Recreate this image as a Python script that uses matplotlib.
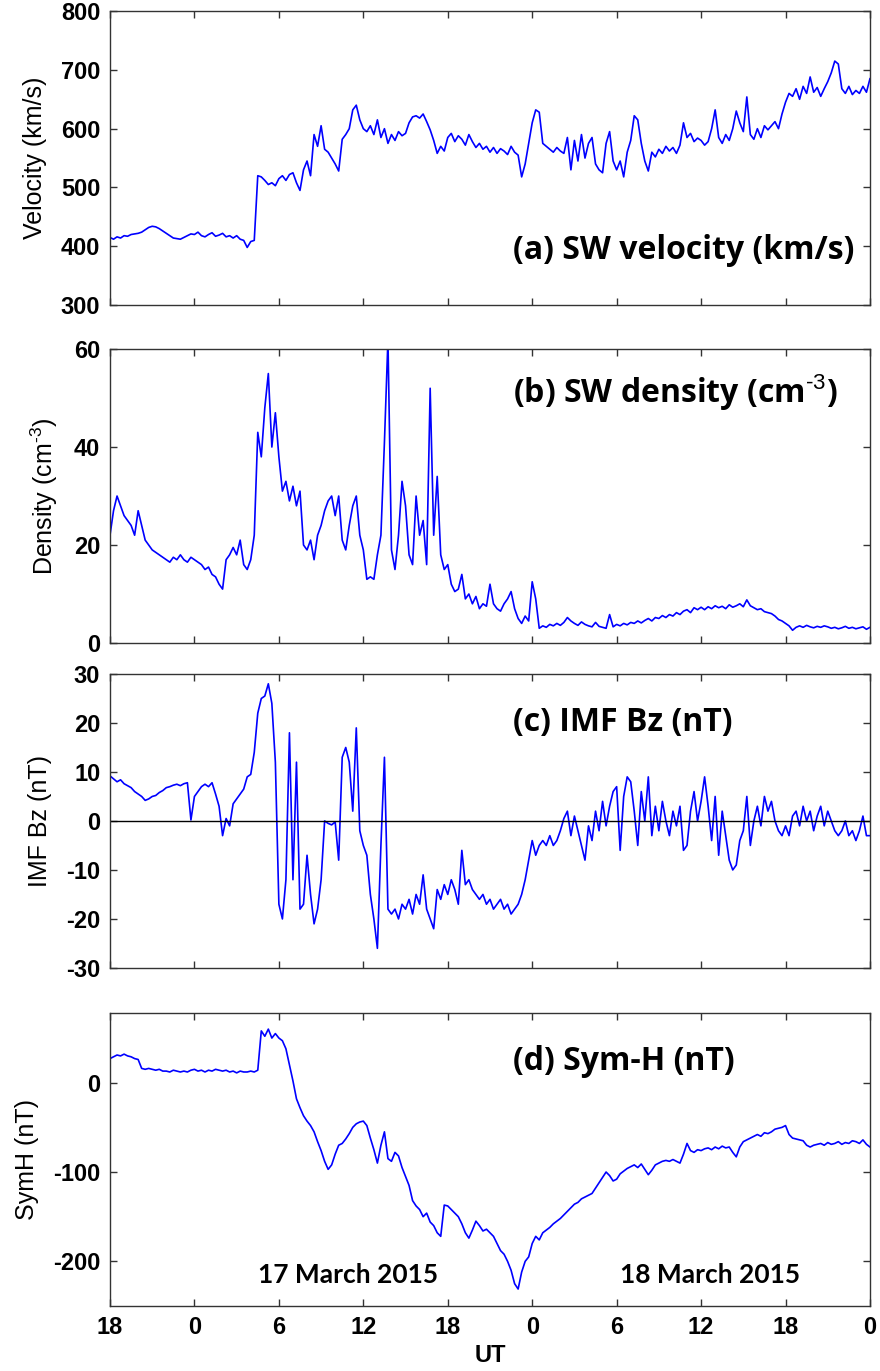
import matplotlib
matplotlib.use("Agg")
import matplotlib.pyplot as plt
import numpy as np

step_h = 0.25

vel = [
    415, 412, 416, 414, 418, 417, 420, 421, 422, 424, 428, 432, 434, 433, 430, 426, 422, 418, 414, 413, 412, 415, 418, 421,
    420, 424, 418, 416, 420, 423, 417, 419, 422, 416, 418, 414, 418, 412, 410, 398, 408, 410, 520, 518, 512, 505, 508, 503,
    515, 520, 512, 522, 525, 508, 495, 530, 545, 520, 590, 570, 605, 565, 560, 550, 540, 528, 582, 590, 600, 632, 640, 615,
    600, 595, 605, 590, 615, 585, 600, 575, 590, 580, 595, 588, 592, 610, 620, 622, 618, 625, 612, 598, 580, 558, 570, 562,
    585, 592, 578, 588, 582, 572, 590, 578, 568, 575, 565, 570, 560, 568, 558, 566, 562, 556, 570, 560, 555, 518, 540, 575,
    610, 632, 628, 575, 570, 565, 560, 568, 562, 558, 585, 530, 580, 545, 590, 550, 575, 585, 540, 530, 525, 575, 595, 545,
    530, 545, 518, 560, 580, 622, 615, 575, 545, 528, 560, 552, 565, 558, 570, 562, 568, 558, 572, 610, 585, 592, 578, 584,
    580, 572, 578, 600, 632, 585, 575, 590, 580, 600, 630, 610, 595, 654, 590, 582, 600, 585, 605, 598, 605, 612, 600, 625,
    645, 660, 655, 668, 650, 672, 660, 688, 662, 670, 655, 668, 680, 695, 715, 710, 668, 660, 672, 658, 665, 660, 672, 662,
    685]

dens = [
    22, 27, 30, 28, 26, 25, 24, 22, 27, 24, 21, 20, 19, 18.5, 18, 17.5, 17, 16.5, 17.5, 17, 18, 17, 16.5, 17.5,
    17, 16.5, 16, 15, 15.5, 14, 13.5, 12, 11, 17, 18, 19.5, 18, 21, 16, 15, 17, 22, 43, 38, 48, 55, 40, 47,
    38, 31, 33, 29, 32, 28, 31, 20, 19, 21, 17, 22, 24, 27, 29, 30, 26, 30, 21, 19, 24, 28, 30, 22,
    19, 13, 13.5, 13, 18, 22, 41, 62, 19, 15, 22, 33, 28, 18, 16, 30, 22, 25, 16, 52, 22, 34, 18, 15,
    16, 12, 10.5, 11, 14, 9, 10, 8, 9.5, 7, 8, 7.5, 12, 8, 7, 6.5, 8, 9, 10.5, 7, 5, 4, 5.5, 4.5,
    12.5, 9, 3, 3.5, 3.2, 3.8, 3.5, 4, 3.6, 4.2, 5.2, 4.5, 4, 3.6, 4.3, 3.8, 3.5, 3.3, 4.2, 3.4, 3.2, 3, 5.8, 3.3,
    3.8, 3.5, 4, 3.7, 4.2, 4, 4.5, 4.1, 4.6, 5, 4.5, 5.2, 5, 5.6, 5.2, 5.8, 5.5, 6.2, 5.8, 6.5, 6.8, 6.2, 7.2, 6.8,
    7.3, 6.8, 7.4, 7, 7.6, 7.2, 7.5, 7, 7.8, 7.3, 7.6, 8, 7.4, 8.8, 7.6, 7.2, 6.8, 7, 6.4, 6.2, 6, 5.5, 4.8, 4.5,
    4, 3.5, 2.6, 3.2, 3.5, 3.2, 3.6, 3.3, 3.1, 3.4, 3.2, 3.5, 3.3, 3, 3.2, 2.9, 3.1, 3.4, 3, 3.2, 2.9, 3.1, 3.3, 2.8,
    3.2]

bz = [
    9.2, 8.6, 8, 8.4, 7.6, 7.2, 6.8, 6, 5.5, 5, 4.2, 4.5, 5, 5.2, 5.8, 6.2, 6.8, 7, 7.3, 7.5, 7.2, 7.6, 7.8, 0.2,
    5, 6, 7, 7.5, 7, 7.8, 5.5, 3, -3, 0.5, -1, 3.5, 4.5, 5.5, 6.5, 9, 9.5, 14, 22, 25, 25.5, 28, 24, 12,
    -17, -20, -12, 18, -12, 12, -18, -17, -7, -15, -21, -18, -12, 0, -0.5, -0.8, -0.2, -8, 13, 15, 12, 2, 19, -2,
    -5, -7, -15, -20, -26, -5, 13, -18, -19, -18, -20, -17, -18, -16, -19, -15, -17, -11, -18, -20, -22, -14, -16, -13,
    -15, -12, -14, -17, -6, -13, -12, -14, -15, -16, -15, -17, -16, -18, -17, -16, -18, -17, -19, -18, -17, -15, -12, -8,
    -4, -7, -5, -4, -5, -3, -5, -4, -2, 0.5, 2, -3, 1, -2, -5, -8, -1, -4, 2, -2, 4, -1, 3, 6,
    7, -6, 5, 9, 8, 2, -5, 6, 0, 9, -3, 3, -2, 4, 0, -3, 2, -1, 3, -6, -5, 2, 6, 0,
    4, 9, 3, -4, 5, -7, 2, -3, -8, -10, -9, -4, -2, 5, -5, 0, 3, -1, 5, 2, 4, 0, -2, -3,
    -1, -3, 1, 2, -1, 3, 0, 2, -2, 1, 3, -1, 2, 0, -2, -3, -2, 0, -3, -2, -4, -2, 1, -3,
    -3]

symh = [
    27, 29, 31, 30, 32, 30, 29, 27, 26, 16, 15, 16, 15, 14, 15, 13, 13, 12, 14, 13, 12, 13, 12, 14,
    15, 13, 14, 12, 14, 13, 15, 14, 13, 14, 12, 13, 11, 13, 12, 12, 13, 12, 14, 58, 52, 60, 50, 55,
    50, 47, 38, 20, 2, -18, -28, -37, -43, -48, -55, -66, -76, -88, -97, -92, -80, -70, -68, -63, -57, -50, -46, -44,
    -43, -48, -62, -75, -90, -70, -55, -85, -88, -78, -82, -95, -105, -115, -132, -138, -142, -150, -146, -156, -160, -168, -172, -137,
    -138, -142, -146, -150, -158, -168, -174, -165, -155, -160, -166, -164, -168, -172, -180, -188, -192, -200, -210, -225, -231, -212, -200, -195,
    -180, -172, -176, -168, -165, -162, -158, -155, -152, -148, -144, -140, -136, -134, -130, -128, -126, -124, -118, -112, -106, -100, -104, -110,
    -108, -102, -99, -96, -94, -92, -95, -91, -97, -103, -98, -92, -90, -88, -87, -88, -86, -88, -90, -80, -68, -76, -78, -75,
    -76, -74, -73, -75, -72, -74, -71, -73, -72, -78, -83, -72, -66, -64, -62, -60, -58, -60, -56, -57, -55, -52, -51, -50,
    -48, -58, -62, -63, -64, -65, -70, -72, -70, -69, -68, -70, -67, -69, -68, -66, -69, -67, -68, -65, -66, -68, -64, -69,
    -72]

xtick_labels = ["18", "0", "6", "12", "18", "0", "6", "12", "18", "0"]

panels = [
    dict(y=vel, ylabel="Velocity (km/s)", ylim=(300, 800), yticks=[300, 400, 500, 600, 700, 800],
         title="(a) SW velocity (km/s)", ty=0.185),
    dict(y=dens, ylabel=r"Density (cm$^{\text{-3}}$)", ylim=(0, 60), yticks=[0, 20, 40, 60],
         title=r"(b) SW density (cm$^{\text{-3}}$)", ty=0.855),
    dict(y=bz, ylabel="IMF Bz (nT)", ylim=(-30, 30), yticks=[-30, -20, -10, 0, 10, 20, 30],
         title="(c) IMF Bz (nT)", ty=0.835),
    dict(y=symh, ylabel="SymH (nT)", ylim=(-250, 78), yticks=[-200, -100, 0],
         title="(d) Sym-H (nT)", ty=0.835),
]

# axes boxes in figure fractions: [left, bottom, width, height]
boxes = [
    [0.125, 0.7775, 0.8636, 0.2144],
    [0.125, 0.5310, 0.8636, 0.2144],
    [0.125, 0.2940, 0.8636, 0.2144],
    [0.125, 0.0474, 0.8636, 0.2137],
]

plt.rcParams["font.family"] = ["Liberation Sans", "DejaVu Sans"]
plt.rcParams["axes.unicode_minus"] = False
plt.rcParams["mathtext.fontset"] = "custom"
plt.rcParams["mathtext.rm"] = "Liberation Sans"
plt.rcParams["mathtext.bf"] = "Open Sans:bold"

fig = plt.figure(figsize=(8.8, 13.71), dpi=100)

for i, (p, box) in enumerate(zip(panels, boxes)):
    ax = fig.add_axes(box)
    t = np.arange(len(p["y"])) * step_h
    ax.plot(t, p["y"], color="#0000ff", lw=1.2)
    if i == 2:
        ax.axhline(0, color="black", lw=1.0)
    ax.set_xlim(0, 54)
    ax.set_ylim(*p["ylim"])
    ax.set_yticks(p["yticks"])
    ax.set_xticks(np.arange(0, 55, 6))
    if i == 3:
        ax.set_xticklabels(xtick_labels)
        ax.set_xlabel("UT", fontsize=17, fontweight="bold", labelpad=4)
    else:
        ax.set_xticklabels([])
    ax.tick_params(direction="in", length=5, width=1, top=True, right=True,
                   labelsize=17, pad=7, color="#333333")
    for lab in ax.get_xticklabels() + ax.get_yticklabels():
        lab.set_fontweight("bold")
    for s in ax.spines.values():
        s.set_color("#333333")
        s.set_linewidth(1.0)
    ax.set_ylabel(p["ylabel"], fontsize=18, labelpad=10)
    ax.text(0.53, p["ty"], p["title"], transform=ax.transAxes, fontsize=23,
            fontweight="bold", family=["Open Sans", "DejaVu Sans"], va="center", ha="left")
    if i == 3:
        ax.text(0.313, 0.106, "17 March 2015", transform=ax.transAxes, fontsize=19,
                fontweight="bold", family=["Lato", "DejaVu Sans"], va="center", ha="center")
        ax.text(0.789, 0.106, "18 March 2015", transform=ax.transAxes, fontsize=19,
                fontweight="bold", family=["Lato", "DejaVu Sans"], va="center", ha="center")

fig.savefig("out.png", dpi=100)
